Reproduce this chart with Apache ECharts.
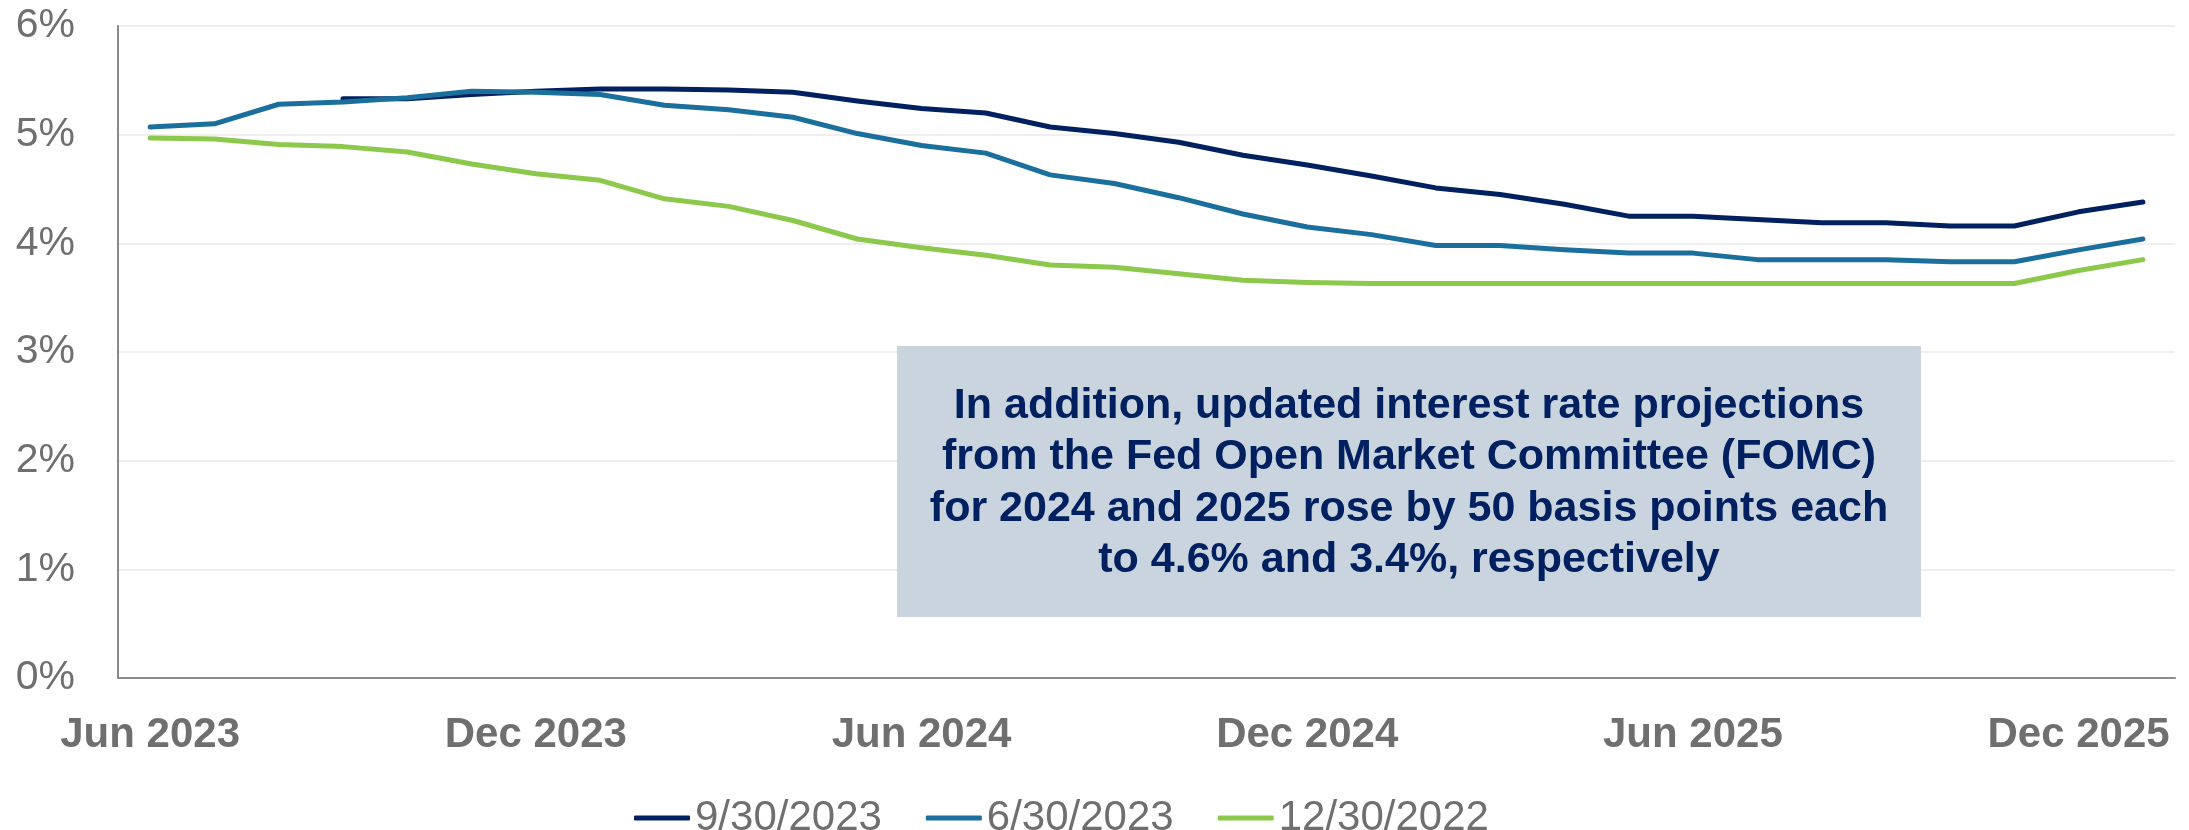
<!DOCTYPE html>
<html>
<head>
<meta charset="utf-8">
<script src="https://cdn.jsdelivr.net/npm/echarts@6/dist/echarts.min.js"></script>
<style>
  html, body { margin: 0; padding: 0; background: #ffffff; }
  #chart { width: 2189px; height: 830px; }
</style>
</head>
<body>
<div id="chart"></div>
<script>
// Monthly points, Jun 2023 .. Jan 2026
const months = [
  'Jun 2023', 'Jul 2023', 'Aug 2023', 'Sep 2023', 'Oct 2023', 'Nov 2023',
  'Dec 2023', 'Jan 2024', 'Feb 2024', 'Mar 2024', 'Apr 2024', 'May 2024',
  'Jun 2024', 'Jul 2024', 'Aug 2024', 'Sep 2024', 'Oct 2024', 'Nov 2024',
  'Dec 2024', 'Jan 2025', 'Feb 2025', 'Mar 2025', 'Apr 2025', 'May 2025',
  'Jun 2025', 'Jul 2025', 'Aug 2025', 'Sep 2025', 'Oct 2025', 'Nov 2025',
  'Dec 2025', 'Jan 2026'
];

// Implied policy rate path (%) as of each date
const seriesNames = ['9/30/2023', '6/30/2023', '12/30/2022'];

const rates_2023_09_30 = [
  null, null, null, 5.33, 5.33, 5.37, 5.40, 5.42, 5.42, 5.41, 5.39, 5.31,
  5.24, 5.20, 5.07, 5.01, 4.93, 4.81, 4.72, 4.62, 4.51, 4.45, 4.36, 4.25,
  4.25, 4.22, 4.19, 4.19, 4.16, 4.16, 4.29, 4.38
];

const rates_2023_06_30 = [
  5.07, 5.10, 5.28, 5.30, 5.34, 5.40, 5.39, 5.37, 5.27, 5.23, 5.16, 5.01,
  4.90, 4.83, 4.63, 4.55, 4.42, 4.27, 4.15, 4.08, 3.98, 3.98, 3.94, 3.91,
  3.91, 3.85, 3.85, 3.85, 3.83, 3.83, 3.94, 4.04
];

const rates_2022_12_30 = [
  4.97, 4.96, 4.91, 4.89, 4.84, 4.73, 4.64, 4.58, 4.41, 4.34, 4.21, 4.04,
  3.96, 3.89, 3.80, 3.78, 3.72, 3.66, 3.64, 3.63, 3.63, 3.63, 3.63, 3.63,
  3.63, 3.63, 3.63, 3.63, 3.63, 3.63, 3.75, 3.85
];

const noteLines = [
  'In addition, updated interest rate projections',
  'from the Fed Open Market Committee (FOMC)',
  'for 2024 and 2025 rose by 50 basis points each',
  'to 4.6% and 3.4%, respectively'
];

const colors = ['#002060', '#1b6f9c', '#8cc84b'];
const seriesData = [rates_2023_09_30, rates_2023_06_30, rates_2022_12_30];
const FONT = '"Liberation Sans", Arial, Helvetica, sans-serif';
const GREY = '#6f6f6f';

const chart = echarts.init(document.getElementById('chart'), null, { renderer: 'canvas' });

chart.setOption({
  animation: false,
  backgroundColor: '#ffffff',
  grid: { left: 118, right: 14, top: 26, bottom: 152, containLabel: false },
  legend: {
    data: seriesNames,
    left: 629,
    top: 792,
    icon: 'roundRect',
    itemWidth: 56,
    itemHeight: 5,
    itemGap: 44,
    textStyle: { fontFamily: FONT, fontSize: 42, color: GREY }
  },
  xAxis: {
    type: 'category',
    data: months,
    boundaryGap: true,
    axisLine: { show: true, lineStyle: { color: '#8a8a8a', width: 2 } },
    axisTick: { show: false },
    axisLabel: {
      interval: 5,
      margin: 36,
      fontFamily: FONT,
      fontSize: 42,
      fontWeight: 'bold',
      color: GREY
    },
    splitLine: { show: false }
  },
  yAxis: {
    type: 'value',
    min: 0,
    max: 6,
    interval: 1,
    axisLine: { show: true, lineStyle: { color: '#8a8a8a', width: 2 } },
    axisTick: { show: false },
    axisLabel: {
      formatter: '{value}%',
      margin: 43,
      fontFamily: FONT,
      fontSize: 41,
      color: GREY
    },
    splitLine: { show: true, lineStyle: { color: '#efefef', width: 2 } }
  },
  series: seriesNames.map((name, i) => ({
    name: name,
    type: 'line',
    data: seriesData[i],
    symbol: 'none',
    showSymbol: false,
    connectNulls: false,
    itemStyle: { color: colors[i] },
    lineStyle: { color: colors[i], width: 5, cap: 'round', join: 'round' },
    z: 2 + i
  })),
  graphic: [
    {
      type: 'rect',
      shape: { x: 897, y: 346, width: 1024, height: 271 },
      style: { fill: '#c9d4df' },
      z: 10
    },
    {
      type: 'text',
      x: 1409,
      y: 483,
      style: {
        text: noteLines.join('\n'),
        fill: '#002060',
        fontFamily: FONT,
        fontSize: 43,
        fontWeight: 'bold',
        lineHeight: 51.5,
        align: 'center',
        verticalAlign: 'middle'
      },
      z: 11
    }
  ]
});
</script>
</body>
</html>
